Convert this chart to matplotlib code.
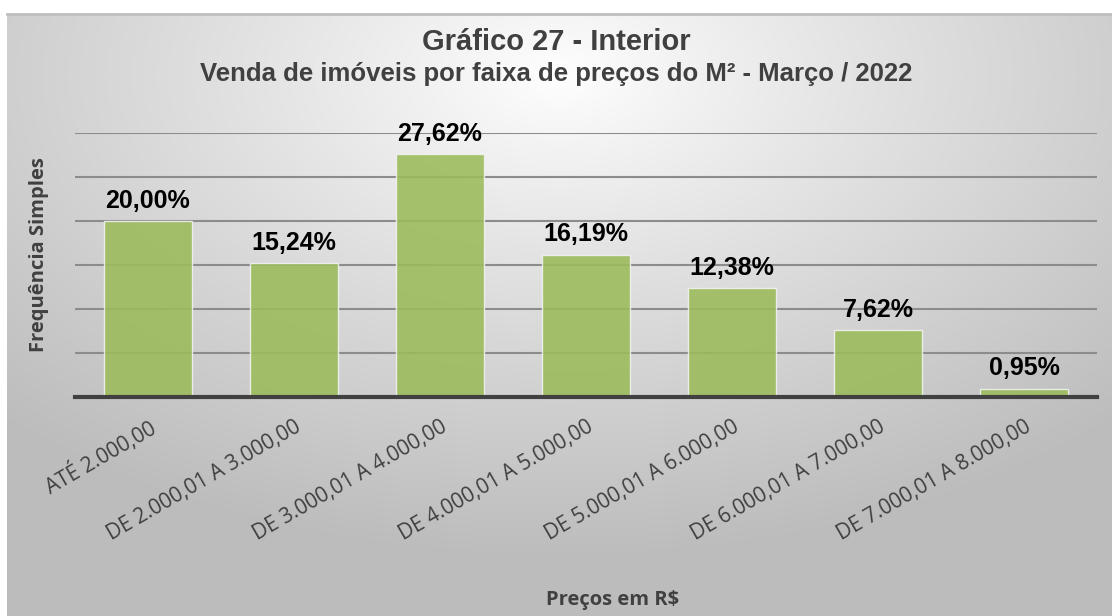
import matplotlib
matplotlib.use('Agg')
import matplotlib.pyplot as plt
import numpy as np

categories = ['ATÉ 2.000,00', 'DE 2.000,01 A 3.000,00', 'DE 3.000,01 A 4.000,00',
              'DE 4.000,01 A 5.000,00', 'DE 5.000,01 A 6.000,00', 'DE 6.000,01 A 7.000,00',
              'DE 7.000,01 A 8.000,00']
values = [20.00, 15.24, 27.62, 16.19, 12.38, 7.62, 0.95]
labels = ['20,00%', '15,24%', '27,62%', '16,19%', '12,38%', '7,62%', '0,95%']

W, H = 1112, 616
fig = plt.figure(figsize=(W / 100, H / 100), dpi=100)

# radial gradient background box
bg = fig.add_axes([7 / W, 0, 1 - 7 / W, 1 - 14 / H])
yy, xx = np.mgrid[0:1:300j, 0:1:600j]
d = np.sqrt(((xx - 0.5) * 1.0) ** 2 + ((yy - 0.1) * 0.9) ** 2)
d = np.clip(d / 0.72, 0, 1)
shade = 1.0 - 0.26 * d ** 0.9
img = np.dstack([shade, shade, shade])
bg.imshow(img, aspect='auto', extent=[0, 1, 0, 1], origin='upper')
bg.set_xlim(0, 1)
bg.set_ylim(0, 1)
bg.axis('off')
bg.plot([0, 1], [1, 1], color='#bfbfbf', lw=2, clip_on=False)

ax = fig.add_axes([75 / W, (H - 397) / H, (1097 - 75) / W, (397 - 133) / H])
ax.patch.set_alpha(0)
x = np.arange(len(categories))
ax.bar(x, values, width=0.6, color='#9BBB59', alpha=0.88, edgecolor='#f2f2f2',
       linewidth=1, zorder=2)
ax.set_xlim(-0.5, len(categories) - 0.5)
ax.set_ylim(0, 30)
ax.set_yticks([5, 10, 15, 20, 25, 30])
ax.yaxis.grid(True, color='#8c8c8c', linewidth=1.5, zorder=1)
ax.set_axisbelow(True)
ax.tick_params(axis='y', left=False, labelleft=False)
ax.tick_params(axis='x', length=0, pad=14)
for s in ['top', 'right', 'left']:
    ax.spines[s].set_visible(False)
ax.spines['bottom'].set_color('#404040')
ax.spines['bottom'].set_linewidth(3)
ax.spines['bottom'].set_zorder(3)

ax.set_xticks(x)
ax.set_xticklabels(categories, rotation=30, ha='right', rotation_mode='anchor',
                   fontsize=15, color='#404040', family='Open Sans')

for xi, v, lab in zip(x, values, labels):
    ax.annotate(lab, (xi, v), xytext=(0, 6), textcoords='offset points',
                ha='center', va='bottom', fontsize=18, fontweight='bold',
                color='black', family='Liberation Sans')

fig.text(0.5, 1 - 42 / H, 'Gráfico 27 - Interior', ha='center', va='center',
         fontsize=21, fontweight='bold', color='#404040', family='Liberation Sans')
fig.text(0.5, 1 - 74 / H, 'Venda de imóveis por faixa de preços do M² - Março / 2022',
         ha='center', va='center', fontsize=18.5, fontweight='bold', color='#404040',
         family='Liberation Sans')
fig.text(39 / W, 1 - 255 / H, 'Frequência Simples', rotation=90, ha='center', va='center',
         fontsize=14.5, fontweight='bold', color='#404040', family='Open Sans')
fig.text(613 / W, 1 - 600 / H, 'Preços em R$', ha='center', va='center',
         fontsize=14.5, fontweight='bold', color='#404040', family='Open Sans')

fig.savefig('out.png', dpi=100)
